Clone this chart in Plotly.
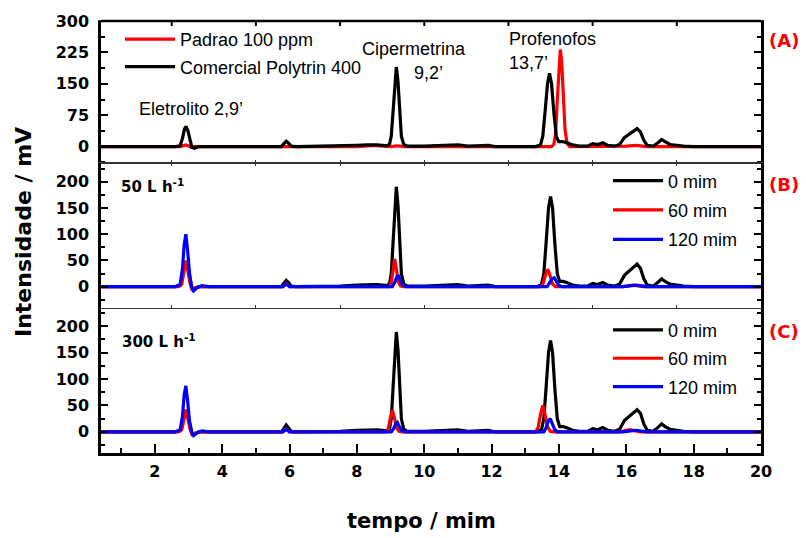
import plotly.graph_objects as go
from plotly.subplots import make_subplots

# ---------------- data: (tempo, intensidade) ----------------
# Panel A
a_comercial = [(0.4, 0), (2.6, 0), (2.75, 2), (2.82, 20), (2.88, 42), (2.93, 48), (2.98, 38), (3.04, 15), (3.1, -2),
               (3.18, -4), (3.3, 0), (5.75, 0), (5.82, 5), (5.9, 13), (5.97, 8), (6.05, 1), (6.2, 0), (7.5, 1),
               (8.0, 3), (8.3, 4), (8.6, 4), (8.9, 2), (8.97, 6), (9.02, 25), (9.07, 80), (9.12, 155), (9.17, 190),
               (9.22, 155), (9.27, 80), (9.32, 25), (9.39, 5), (9.5, 1), (10, 1), (10.5, 2), (11, 4), (11.3, 1),
               (11.9, 3), (12.1, 0), (13.3, 0), (13.45, 4), (13.52, 25), (13.59, 85), (13.66, 150), (13.72, 175),
               (13.78, 150), (13.85, 80), (13.92, 25), (13.99, 12), (14.1, 12), (14.25, 9), (14.4, 4), (14.6, 1),
               (14.85, 1), (15.0, 7), (15.15, 5), (15.3, 9), (15.45, 3), (15.65, 1), (15.8, 5), (15.95, 22),
               (16.1, 30), (16.2, 36), (16.32, 43), (16.42, 35), (16.52, 15), (16.62, 3), (16.8, 1), (16.95, 10),
               (17.05, 17), (17.15, 12), (17.3, 5), (17.5, 3), (17.7, 1), (18, 0), (20, 0)]
a_padrao = [(0.4, 0), (2.75, 0), (2.92, 4), (3.05, 0), (8, 0), (8.5, 3), (9.0, 0), (9.2, 2), (9.4, 0), (13.78, 0),
            (13.85, 6), (13.9, 30), (13.95, 110), (14.0, 200), (14.04, 232), (14.08, 205), (14.13, 120),
            (14.18, 40), (14.24, 8), (14.32, 0), (16.0, 1), (16.3, 3), (16.6, 0), (20, 0)]

# Panel B (50 L h-1)
b_0mim = [(0.4, 0), (2.6, 0), (2.75, 2), (2.82, 18), (2.88, 40), (2.93, 45), (2.98, 35), (3.04, 14), (3.1, -2),
          (3.18, -4), (3.3, 0), (5.75, 0), (5.82, 5), (5.9, 12), (5.97, 8), (6.05, 1), (6.2, 0), (7.5, 1),
          (8.0, 3), (8.3, 4), (8.6, 4), (8.9, 2), (8.97, 6), (9.02, 25), (9.07, 80), (9.12, 155), (9.17, 190),
          (9.22, 155), (9.27, 80), (9.32, 25), (9.39, 5), (9.5, 1), (10, 1), (10.5, 2), (11, 4), (11.3, 1),
          (11.9, 3), (12.1, 0), (13.35, 0), (13.48, 4), (13.55, 25), (13.62, 85), (13.69, 150), (13.75, 172),
          (13.81, 150), (13.88, 80), (13.95, 25), (14.02, 10), (14.12, 10), (14.27, 7), (14.4, 3), (14.6, 1),
          (14.85, 1), (15.0, 6), (15.15, 4), (15.3, 8), (15.45, 3), (15.65, 1), (15.8, 5), (15.95, 22),
          (16.1, 30), (16.2, 36), (16.32, 43), (16.42, 35), (16.52, 15), (16.62, 3), (16.8, 1), (16.95, 9),
          (17.05, 15), (17.15, 10), (17.3, 5), (17.5, 3), (17.7, 1), (18, 0), (20, 0)]
b_60mim = [(0.4, 0), (2.7, 0), (2.8, 5), (2.86, 30), (2.92, 50), (2.98, 30), (3.04, 8), (3.1, -5), (3.2, -2),
           (3.35, 0), (5.8, 0), (5.9, 6), (6.0, 0), (8.95, 0), (9.02, 8), (9.07, 30), (9.12, 53), (9.17, 35),
           (9.22, 10), (9.3, 1), (9.4, 0), (13.45, 0), (13.53, 6), (13.6, 22), (13.67, 33), (13.74, 20),
           (13.81, 5), (13.9, 0), (15.9, 0), (16.2, 3), (16.5, 0), (20, 0)]
b_120mim = [(0.4, 0), (2.6, 0), (2.75, 4), (2.82, 35), (2.87, 80), (2.92, 100), (2.97, 70), (3.03, 25), (3.09, 0),
            (3.15, -8), (3.25, -2), (3.4, 2), (3.6, 0), (5.8, 0), (5.9, 5), (6.0, 0), (9.05, 0), (9.12, 8),
            (9.18, 18), (9.23, 22), (9.29, 12), (9.36, 3), (9.45, 0), (13.65, 0), (13.73, 8), (13.8, 15),
            (13.86, 17), (13.93, 9), (14.0, 2), (14.1, 0), (15.9, 0), (16.3, 3), (16.6, 0), (20, 0)]

# Panel C (300 L h-1)
c_0mim = [(0.4, 0), (2.6, 0), (2.75, 2), (2.82, 16), (2.88, 35), (2.93, 40), (2.98, 30), (3.04, 12), (3.1, -2),
          (3.18, -4), (3.3, 0), (5.75, 0), (5.82, 5), (5.9, 13), (5.97, 8), (6.05, 1), (6.2, 0), (7.5, 1),
          (8.0, 3), (8.3, 4), (8.6, 4), (8.9, 2), (8.97, 6), (9.02, 25), (9.07, 80), (9.12, 155), (9.17, 189),
          (9.22, 155), (9.27, 80), (9.32, 25), (9.39, 5), (9.5, 1), (10, 1), (10.5, 2), (11, 4), (11.3, 1),
          (11.9, 3), (12.1, 0), (13.35, 0), (13.48, 4), (13.55, 25), (13.62, 85), (13.69, 150), (13.75, 173),
          (13.81, 150), (13.88, 80), (13.95, 25), (14.02, 10), (14.12, 10), (14.27, 7), (14.4, 3), (14.6, 1),
          (14.85, 1), (15.0, 6), (15.15, 4), (15.3, 8), (15.45, 3), (15.65, 1), (15.8, 5), (15.95, 22),
          (16.1, 30), (16.2, 36), (16.32, 42), (16.42, 35), (16.52, 15), (16.62, 3), (16.8, 1), (16.95, 9),
          (17.05, 15), (17.15, 10), (17.3, 5), (17.5, 3), (17.7, 1), (18, 0), (20, 0)]
c_60mim = [(0.4, 0), (2.7, 0), (2.8, 4), (2.86, 25), (2.92, 42), (2.98, 25), (3.04, 6), (3.1, -5), (3.2, -2),
           (3.35, 0), (5.8, 0), (5.9, 6), (6.0, 0), (8.85, 0), (8.93, 6), (8.99, 25), (9.05, 41), (9.11, 28),
           (9.17, 8), (9.25, 1), (9.35, 0), (13.3, 0), (13.38, 8), (13.45, 32), (13.52, 50), (13.59, 32),
           (13.66, 10), (13.74, 1), (13.85, 0), (15.8, 0), (16.1, 4), (16.4, 0), (20, 0)]
c_120mim = [(0.4, 0), (2.6, 0), (2.75, 4), (2.82, 30), (2.87, 70), (2.92, 87), (2.97, 60), (3.03, 20), (3.09, 0),
            (3.15, -7), (3.25, -2), (3.4, 2), (3.6, 0), (5.8, 0), (5.9, 5), (6.0, 0), (9.02, 0), (9.09, 6),
            (9.15, 15), (9.2, 18), (9.26, 10), (9.33, 2), (9.42, 0), (13.55, 0), (13.62, 8), (13.68, 20),
            (13.74, 25), (13.8, 16), (13.87, 5), (13.95, 0), (15.9, 0), (16.3, 3), (16.6, 0), (20, 0)]

x_range = [0.4, 20]
ya_range = [-40, 300]
ybc_range = [-40, 235]
ya_ticks = [0, 75, 150, 225, 300]
ybc_ticks = [0, 50, 100, 150, 200]

# ---------------- figure ----------------
W, H = 806, 538
L, R, T, B = 101, 45, 19, 85
PW, PH = W - L - R, H - T - B


def px(x):
    return (x - L) / PW


def py(y):
    return (H - B - y) / PH


FONT = "Arial, Liberation Sans, sans-serif"
BFONT = "DejaVu Sans, Verdana, sans-serif"
fig = make_subplots(rows=3, cols=1, vertical_spacing=0)

lw = 3.2


def add(series, name, color, legend, group, row):
    t = [p[0] for p in series]
    y = [p[1] for p in series]
    fig.add_trace(go.Scatter(x=t, y=y, mode="lines", name=name,
                             line=dict(color=color, width=lw),
                             legend=legend, legendgroup=group), row=row, col=1)


add(a_padrao, "Padrao 100 ppm", "#ff0000", "legend", "a1", 1)
add(a_comercial, "Comercial Polytrin 400", "#000000", "legend", "a2", 1)
add(b_0mim, "0 mim", "#000000", "legend2", "b1", 2)
add(b_60mim, "60 mim", "#ff0000", "legend2", "b2", 2)
add(b_120mim, "120 mim", "#0000ff", "legend2", "b3", 2)
add(c_0mim, "0 mim", "#000000", "legend3", "c1", 3)
add(c_60mim, "60 mim", "#ff0000", "legend3", "c2", 3)
add(c_120mim, "120 mim", "#0000ff", "legend3", "c3", 3)

tickfont = dict(family=BFONT, size=16, color="black", weight="bold")
ycommon = dict(showline=True, linecolor="black", linewidth=2.5, mirror="ticks",
               ticks="inside", tickcolor="black", tickwidth=2, showgrid=False, zeroline=False,
               ticklen=7, tickfont=tickfont, ticklabelstandoff=6)
xthin = dict(showline=True, linecolor="#333333", linewidth=1.2, mirror="ticks",
             ticks="inside", tickcolor="#333333", tickwidth=1.2, ticklen=3, showgrid=False, zeroline=False,
             dtick=2.5, tick0=0, showticklabels=False)
minor_y = dict(ticklen=4, ticks="inside", tickcolor="black", tickwidth=2)

dA = [py(162), 1.0]
dB = [py(307), py(162)]
dC = [0.0, py(307)]

legfont = dict(family=FONT, size=18, color="black")
fig.update_layout(
    width=W, height=H, margin=dict(l=L, r=R, t=T, b=B),
    paper_bgcolor="white", plot_bgcolor="white",
    font=dict(family=FONT, color="black"),
    xaxis=dict(range=x_range, domain=[0, 1], **xthin),
    xaxis2=dict(range=x_range, domain=[0, 1], **xthin),
    xaxis3=dict(range=x_range, domain=[0, 1], dtick=2, tick0=0, ticklen=9, tickfont=tickfont,
                showline=True, linecolor="black", linewidth=2.5, mirror=False,
                ticks="inside", tickcolor="black", tickwidth=2, showgrid=False, zeroline=False,
                ticklabelstandoff=2,
                minor=dict(dtick=1, tick0=0, ticklen=5, ticks="inside", tickcolor="black", tickwidth=2)),
    yaxis=dict(range=ya_range, domain=dA, tickvals=ya_ticks,
               minor=dict(tickvals=[-37.5, 37.5, 112.5, 187.5, 262.5], **minor_y), **ycommon),
    yaxis2=dict(range=ybc_range, domain=dB, tickvals=ybc_ticks,
                minor=dict(tickvals=[-25, 25, 75, 125, 175, 225], **minor_y), **ycommon),
    yaxis3=dict(range=ybc_range, domain=dC, tickvals=ybc_ticks,
                minor=dict(tickvals=[-25, 25, 75, 125, 175, 225], **minor_y), **ycommon),
    legend=dict(x=px(120), y=py(19), xanchor="left", yanchor="top", bgcolor="rgba(0,0,0,0)",
                font=legfont, tracegroupgap=1, itemwidth=50),
    legend2=dict(x=px(608), y=py(161), xanchor="left", yanchor="top", bgcolor="rgba(0,0,0,0)",
                 font=legfont, tracegroupgap=3, itemwidth=50),
    legend3=dict(x=px(608), y=py(311), xanchor="left", yanchor="top", bgcolor="rgba(0,0,0,0)",
                 font=legfont, tracegroupgap=2, itemwidth=50),
)

# thick top frame line of panel A (the separators between panels are thin)
fig.add_shape(type="line", xref="paper", yref="paper", x0=0, x1=1, y0=1, y1=1,
              line=dict(color="black", width=2.5))
# top ticks of panel A (larger than the separator ticks)
for xv in [2.5, 5, 7.5, 10, 12.5, 15, 17.5]:
    fig.add_shape(type="line", xref="x", yref="paper", x0=xv, x1=xv, y0=1, y1=py(19 + 5),
                  line=dict(color="black", width=2))

ann_font = dict(family=FONT, size=18, color="black")
lab_font = dict(family=BFONT, size=18, color="#ff0000", weight="bold")
rate_font = dict(family=BFONT, size=15, color="black", weight="bold")
annots = [
    ("Eletrolito 2,9’", 137, 107, ann_font),
    ("Cipermetrina", 360, 47, ann_font),
    ("9,2’", 412, 71, ann_font),
    ("Profenofos", 507, 37, ann_font),
    ("13,7’", 507, 61, ann_font),
    ("(A)", 767, 39, lab_font),
    ("(B)", 767, 183, lab_font),
    ("(C)", 767, 331, lab_font),
    ("50 L h<sup>-1</sup>", 119, 185, rate_font),
    ("300 L h<sup>-1</sup>", 120, 340, rate_font),
]
for txt, xp, yp, f in annots:
    fig.add_annotation(text=txt, x=px(xp), y=py(yp), xref="paper", yref="paper",
                       xanchor="left", yanchor="middle", showarrow=False, font=f)

fig.add_annotation(text="tempo / mim", x=px(421), y=py(521), xref="paper", yref="paper",
                   xanchor="center", yanchor="middle", showarrow=False,
                   font=dict(family=BFONT, size=21, color="black", weight="bold"))
fig.add_annotation(text="Intensidade / mV", x=px(23), y=py(231), xref="paper", yref="paper",
                   xanchor="center", yanchor="middle", showarrow=False, textangle=-90,
                   font=dict(family=BFONT, size=22, color="black", weight="bold"))

fig.write_html("out.html", config={"displayModeBar": False},
               post_script="document.body.style.margin='0';")
